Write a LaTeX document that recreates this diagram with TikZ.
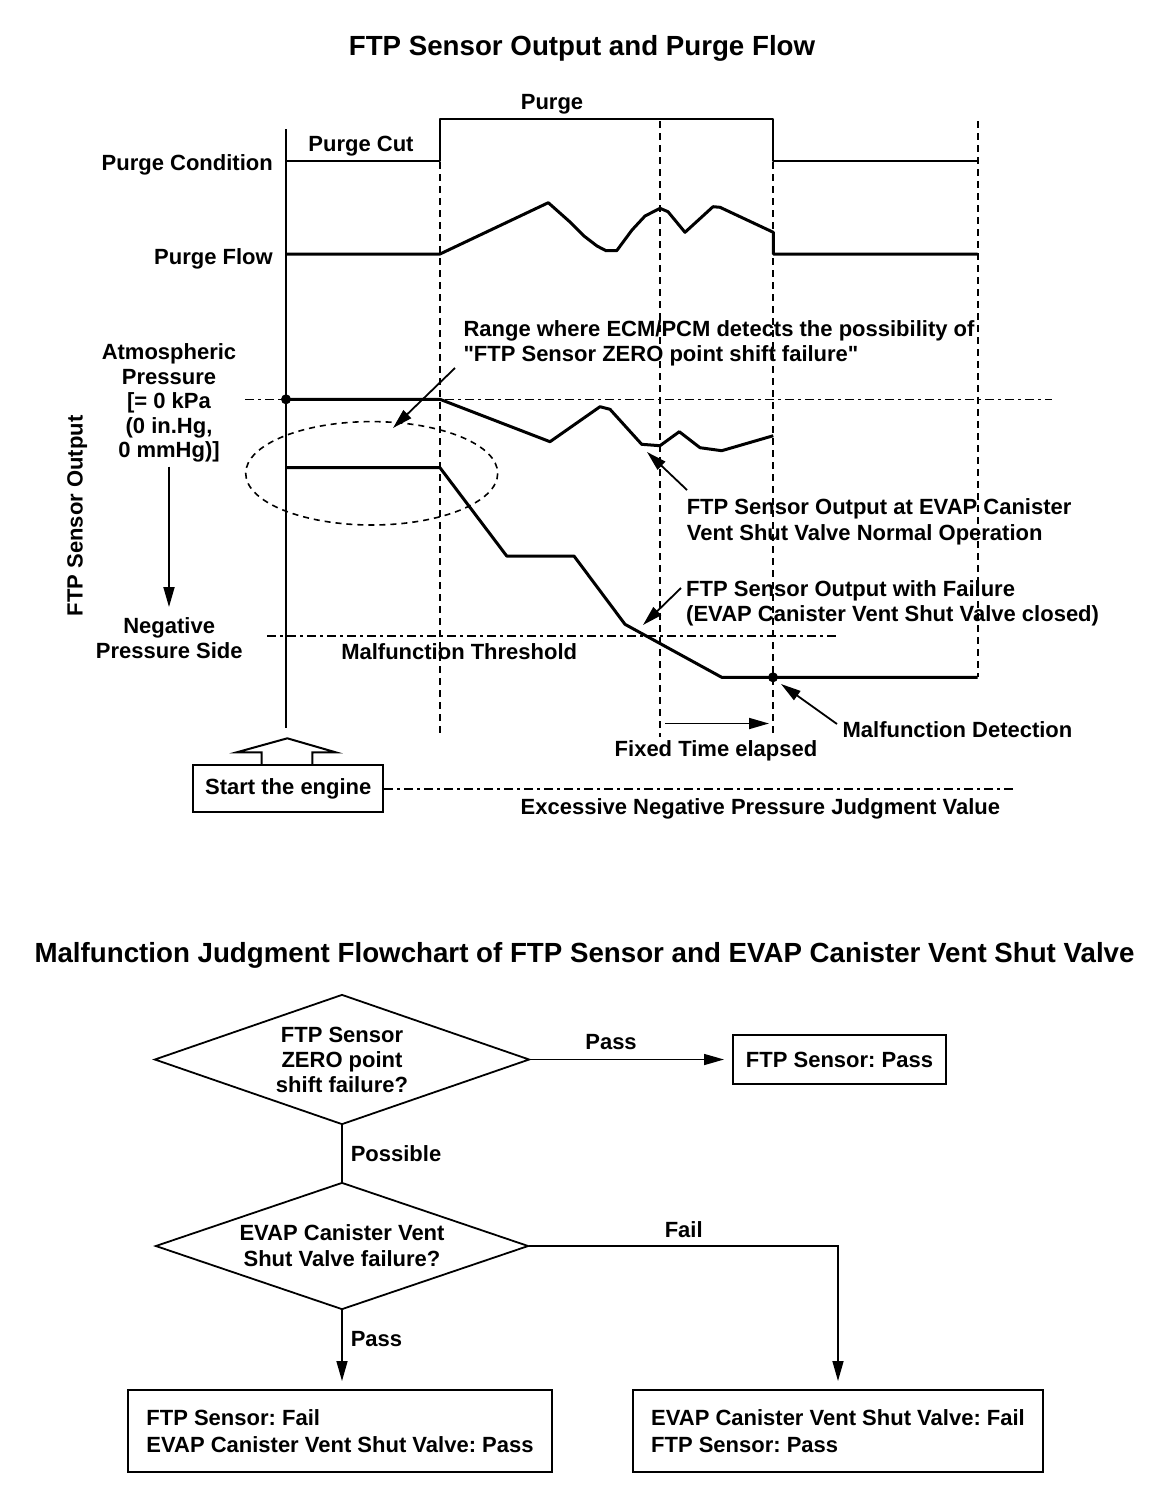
\documentclass[tikz,border=0pt]{standalone}
\usepackage{fontspec}
\setmainfont{Liberation Sans}[Ligatures=TeXOff]
\frenchspacing
\usetikzlibrary{arrows.meta,shapes.geometric,positioning}

\begin{document}
\begin{tikzpicture}[x=1pt,y=-1pt,
  lbl/.style={font=\bfseries\fontsize{22}{25}\selectfont, inner sep=0pt},
  heading/.style={font=\bfseries\fontsize{27.7}{30}\selectfont, inner sep=0pt},
  axisline/.style={line width=2.4pt},
  condline/.style={line width=2.2pt, line join=round},
  sigline/.style={line width=3pt, line join=round},
  guide/.style={line width=1.6pt, dash pattern=on 7pt off 5pt},
  refline/.style={line width=1.6pt, dash pattern=on 9pt off 4pt on 3pt off 4pt},
  pointer/.style={line width=1.8pt, -{Triangle[length=20pt,width=11pt]}},
  dot/.style={circle, fill, inner sep=0pt, minimum size=10pt},
  decision/.style={diamond, draw, line width=1.8pt, aspect=2.9, inner sep=0pt, align=center, font=\bfseries\fontsize{22}{25}\selectfont},
  result/.style={draw, line width=2pt, inner sep=0pt, font=\bfseries\fontsize{22}{27}\selectfont},
  flow/.style={line width=1.6pt},
  flowarrow/.style={flow, -{Triangle[length=20pt,width=11pt]}, shorten >=8pt}]

\path[use as bounding box, fill=white] (0,0) rectangle (1152,1508);

\node[heading, anchor=base] (chartttl) at (582,55) {FTP Sensor Output and Purge Flow};
\node[heading, anchor=base] (flowttl) at (584.5,962) {Malfunction Judgment Flowchart of FTP Sensor and EVAP Canister Vent Shut Valve};

\coordinate (axtop) at (286,129);
\coordinate (axbot) at (286,728);
\draw[axisline] (axtop) -- (axbot);

\draw[guide] (440,162) -- (440,737);
\draw[guide] (660,121) -- (660,737);
\draw[guide] (773,162) -- (773,737);
\draw[guide] (977.7,121) -- (977.7,677);

\draw[refline] (245,399.3) -- (1051.7,399.3);
\draw[refline] (267,636) -- (839,636);

\draw[condline] (286,160.7) -- (440,160.7) -- (440,119) -- (773,119) -- (773,160.7) -- (977.7,160.7);
\draw[sigline] (286,254) -- (440,254) -- (548.3,202.7) -- (570,222) -- (584,236) -- (597,246) -- (606,250.7) -- (616.7,250.7) -- (632,230) -- (645,216) -- (660,208.3) -- (668,211.7) -- (685,232.3) -- (713,206.7) -- (720,207.3) -- (773.3,232.3) -- (773.3,254) -- (977.7,254);
\draw[sigline] (286,399.3) -- (440,399.3) -- (550,441.7) -- (600,406.7) -- (610,409.3) -- (641.7,444.3) -- (660,445.7) -- (679.3,431.7) -- (700,447.7) -- (721.7,450.7) -- (773.3,435.7);
\draw[sigline] (286,467.7) -- (440,467.7) -- (506.7,556) -- (574,556) -- (625,624.3) -- (721.7,677.3) -- (977.7,677.3);

\node[dot] (atmos) at (286,399.3) {};
\node[dot] (detect) at (773,677.3) {};

\draw[line width=1.6pt, dash pattern=on 6pt off 5pt] (371.7,473.3) ellipse [x radius=126, y radius=51.7];

\node[lbl, anchor=base east] (condlbl) at (273,170) {Purge Condition};
\node[lbl, anchor=base east] (flowlbl) at (273,264) {Purge Flow};
\node[lbl, anchor=base] (cutlbl) at (361,151) {Purge Cut};
\node[lbl, anchor=base] (purgelbl) at (552,109.5) {Purge};
\node[lbl, align=center, anchor=north, font=\bfseries\fontsize{22}{24.5}\selectfont] (atmlbl) at (169,343.5) {Atmospheric\\Pressure\\{[}= 0 kPa\\(0 in.Hg,\\0 mmHg)]};
\node[lbl, align=center, anchor=north] (neglbl) at (169.2,617) {Negative\\Pressure Side};
\node[lbl, rotate=90, anchor=base] (ylbl) at (82.7,515.8) {FTP Sensor Output};
\draw[pointer, shorten <=4pt, shorten >=10pt] (atmlbl.south) -- (atmlbl.south |- neglbl.north);

\node[lbl, align=left, anchor=north west] (rangelbl) at (463.3,320.7) {Range where ECM/PCM detects the possibility of\\"FTP Sensor ZERO point shift failure"};
\node[lbl, align=left, anchor=north west, font=\bfseries\fontsize{22}{26}\selectfont] (normlbl) at (686.6,498) {FTP Sensor Output at EVAP Canister\\Vent Shut Valve Normal Operation};
\node[lbl, align=left, anchor=north west] (faillbl) at (686,580.7) {FTP Sensor Output with Failure\\(EVAP Canister Vent Shut Valve closed)};
\node[lbl, anchor=base] (thrlbl) at (459.2,659.3) {Malfunction Threshold};
\node[lbl, anchor=base west] (detlbl) at (842.4,737.7) {Malfunction Detection};
\node[lbl, anchor=base] (fixlbl) at (716,756) {Fixed Time elapsed};
\node[lbl, anchor=base] (exclbl) at (760.4,814.3) {Excessive Negative Pressure Judgment Value};

\coordinate (rangetail) at (455,368);
\coordinate (rangetip) at (393,428);
\coordinate (normtail) at (687,490);
\coordinate (normtip) at (647,452);
\coordinate (failtail) at (681,588);
\coordinate (failtip) at (643,625);
\coordinate (dettail) at (837,724);
\coordinate (dettip) at (781,684);
\coordinate (fixstart) at (665,723.5);
\coordinate (fixend) at (769,723.5);
\draw[pointer] (rangetail) -- (rangetip);
\draw[pointer] (normtail) -- (normtip);
\draw[pointer] (failtail) -- (failtip);
\draw[pointer] (dettail) -- (dettip);
\draw[pointer] (fixstart) -- (fixend);

\node[draw, line width=2pt, lbl, minimum width=190pt, minimum height=47pt] (start) at (288.3,788.7) {Start the engine};
\draw[line width=2pt, line join=miter] (261.7,765) -- (261.7,752.3) -- (236.7,752.3) -- (287.3,738.3) -- (335.7,752.3) -- (312.3,752.3) -- (312.3,765);
\draw[refline] (start.east) -- ++(629.5,0);

\node[decision, minimum width=375pt, minimum height=130pt] (zero) at (342,1059.5) {FTP Sensor\\ZERO point\\shift failure?};
\node[result, minimum width=213pt, minimum height=49pt] (snspass) at (839.5,1059.5) {FTP Sensor: Pass};
\node[decision, minimum width=373pt, minimum height=127pt, font=\bfseries\fontsize{22}{26}\selectfont] (vent) at (342,1246) {EVAP Canister Vent\\Shut Valve failure?};
\node[result, align=left, minimum width=424pt, minimum height=82pt] (snsfail) at (340,1431) {FTP Sensor: Fail\\EVAP Canister Vent Shut Valve: Pass};
\node[result, align=left, minimum width=410pt, minimum height=82pt] (ventfail) at (838,1431) {EVAP Canister Vent Shut Valve: Fail\\FTP Sensor: Pass};

\draw[flowarrow] (zero.east) -- (snspass.west) node[lbl, pos=0.4, above=9pt] {Pass};
\draw[flow] (zero.south) -- (vent.north) node[lbl, midway, right=8pt] {Possible};
\draw[flowarrow] (vent.south) -- (vent.south |- snsfail.north) node[lbl, pos=0.36, right=8pt] {Pass};
\draw[flowarrow] (vent.east) -| (ventfail.north) node[lbl, pos=0.25, above=8pt] {Fail};
\end{tikzpicture}
\end{document}
